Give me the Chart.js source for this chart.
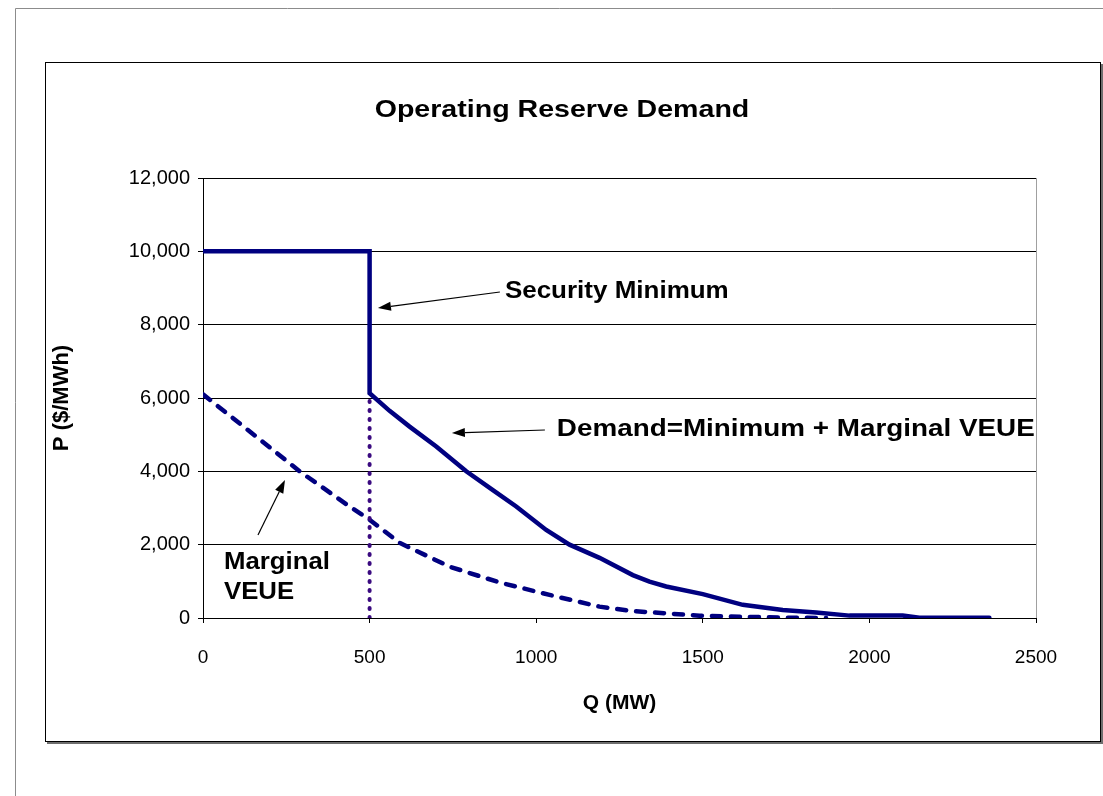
<!DOCTYPE html>
<html lang="en">
<head>
<meta charset="UTF-8">
<title>Operating Reserve Demand</title>
<script src="https://cdn.jsdelivr.net/npm/chart.js"></script>
<style>
    body { margin: 0; background: #fff; }
    #wrap { width: 1103px; height: 796px; }
</style>
</head>
<body>
<div id="wrap"><canvas id="reserveChart" width="1103" height="796"></canvas></div>
<script>
    // data (Q in MW, P in $/MWh)
    const demandQ = [0, 500, 500, 560, 620, 700, 790, 870, 940, 1030, 1100, 1190, 1290, 1340, 1390, 1500, 1620, 1740, 1840, 1940, 2100, 2150, 2360];
    const demandP = [10000, 10000, 6130, 5650, 5220, 4680, 4000, 3490, 3040, 2400, 2000, 1640, 1170, 990, 860, 650, 360, 220, 150, 65, 65, 10, 10];
    const veueQ = [0, 180, 290, 440, 500, 590, 740, 890, 1040, 1190, 1290, 1390, 1490, 1610, 1740, 1870];
    const veueP = [6100, 4800, 4000, 3040, 2680, 2050, 1400, 970, 630, 310, 190, 127, 64, 36, 10, 0];
    const minimumQ = [500, 500];
    const minimumP = [0, 6050];

    const xTicks = [0, 500, 1000, 1500, 2000, 2500];
    const yTicks = [0, 2000, 4000, 6000, 8000, 10000, 12000];

    // text notes and arrows, in data units
    const notes = [
        { text: 'Security Minimum', q: 906, p: 8890 },
        { text: 'Demand=Minimum + Marginal VEUE', q: 1062, p: 5127 },
        { text: 'Marginal', q: 63, p: 1520 },
        { text: 'VEUE', q: 63, p: 700 }
    ];
    const arrows = [
        { q1: 891, p1: 8891, q2: 525, p2: 8455 },
        { q1: 1026, p1: 5127, q2: 747, p2: 5045 },
        { q1: 165, p1: 2264, q2: 246, p2: 3764 }
    ];

    const FONT = '"Liberation Sans", Arial, sans-serif';
    const zip = (a, b) => a.map((v, i) => ({ x: v, y: b[i] }));

    // the original text is a little wider than Arial
    const noteStretch = [1.13, 1.21, 1.12, 1.12];

    function wideText(ctx, str, x, y, size, sx, align) {
        ctx.save();
        ctx.font = 'bold ' + size + 'px ' + FONT;
        ctx.fillStyle = '#000';
        ctx.textBaseline = 'middle';
        ctx.textAlign = align || 'left';
        ctx.translate(x, y);
        ctx.scale(sx, 1);
        ctx.fillText(str, 0, 0);
        ctx.restore();
    }

    function drawArrow(ctx, x1, y1, x2, y2) {
        const ang = Math.atan2(y2 - y1, x2 - x1);
        const len = 13, half = 4.5;
        const bx = x2 - len * Math.cos(ang), by = y2 - len * Math.sin(ang);
        ctx.save();
        ctx.strokeStyle = '#000';
        ctx.fillStyle = '#000';
        ctx.lineWidth = 1.2;
        ctx.beginPath();
        ctx.moveTo(x1, y1);
        ctx.lineTo(bx, by);
        ctx.stroke();
        ctx.beginPath();
        ctx.moveTo(x2, y2);
        ctx.lineTo(bx + half * Math.sin(ang), by - half * Math.cos(ang));
        ctx.lineTo(bx - half * Math.sin(ang), by + half * Math.cos(ang));
        ctx.closePath();
        ctx.fill();
        ctx.restore();
    }

    const framePlugin = {
        id: 'frame',
        beforeDraw(chart) {
            const ctx = chart.ctx;
            ctx.save();
            ctx.fillStyle = '#fff';
            ctx.fillRect(0, 0, chart.width, chart.height);
            // outer sheet edge
            ctx.strokeStyle = '#8c8c8c';
            ctx.lineWidth = 1;
            ctx.beginPath();
            ctx.moveTo(15.5, 796);
            ctx.lineTo(15.5, 8.5);
            ctx.lineTo(1103, 8.5);
            ctx.stroke();
            // chart box with shadow
            ctx.fillStyle = '#6e6e6e';
            ctx.fillRect(47, 64, 1056, 680);
            ctx.fillStyle = '#fff';
            ctx.fillRect(45, 62, 1055, 679);
            ctx.strokeStyle = '#000';
            ctx.strokeRect(45.5, 62.5, 1055, 679);
            ctx.restore();
        },
        beforeDatasetsDraw(chart) {
            const ctx = chart.ctx, a = chart.chartArea;
            ctx.save();
            ctx.strokeStyle = '#a0a0a0';
            ctx.lineWidth = 1;
            ctx.beginPath();
            ctx.moveTo(Math.round(a.right) + 0.5, a.top);
            ctx.lineTo(Math.round(a.right) + 0.5, a.bottom);
            ctx.stroke();
            ctx.restore();
        },
        afterDraw(chart) {
            const ctx = chart.ctx;
            const xs = chart.scales.x, ys = chart.scales.y;
            wideText(ctx, 'Operating Reserve Demand', 562, 110, 24, 1.19, 'center');
            notes.forEach((n, i) => {
                wideText(ctx, n.text, xs.getPixelForValue(n.q), ys.getPixelForValue(n.p), 23, noteStretch[i], 'left');
            });
            arrows.forEach(a => {
                drawArrow(ctx, xs.getPixelForValue(a.q1), ys.getPixelForValue(a.p1),
                    xs.getPixelForValue(a.q2), ys.getPixelForValue(a.p2));
            });
        }
    };

    const ctx = document.getElementById('reserveChart').getContext('2d');
    const reserveChart = new Chart(ctx, {
        type: 'scatter',
        data: {
            datasets: [{
                label: 'Minimum',
                data: zip(minimumQ, minimumP),
                showLine: true,
                borderColor: '#3a0a80',
                borderWidth: 4,
                borderDash: [1, 8],
                borderCapStyle: 'round',
                pointRadius: 0,
                order: 0
            }, {
                label: 'Marginal VEUE',
                data: zip(veueQ, veueP),
                showLine: true,
                borderColor: '#000080',
                borderWidth: 4.5,
                borderDash: [9, 10],
                borderCapStyle: 'round',
                pointRadius: 0,
                order: 1
            }, {
                label: 'Demand',
                data: zip(demandQ, demandP),
                showLine: true,
                borderColor: '#000080',
                borderWidth: 4.5,
                borderCapStyle: 'round',
                borderJoinStyle: 'miter',
                pointRadius: 0,
                order: 2
            }]
        },
        options: {
            responsive: false,
            animation: false,
            layout: { padding: { left: 45, right: 67, top: 178, bottom: 55 } },
            plugins: {
                legend: { display: false },
                tooltip: { enabled: false }
            },
            scales: {
                x: {
                    type: 'linear',
                    position: 'bottom',
                    min: 0,
                    max: 2500,
                    afterBuildTicks: s => { s.ticks = xTicks.map(v => ({ value: v })); },
                    afterFit: s => { s.height = 123; },
                    ticks: {
                        color: '#000',
                        font: { family: FONT, size: 19 },
                        padding: 23,
                        maxRotation: 0,
                        autoSkip: false,
                        callback: v => String(v)
                    },
                    grid: { drawOnChartArea: false, drawTicks: true, tickLength: 5, color: '#000' },
                    border: { color: '#000', width: 1 },
                    title: {
                        display: true,
                        text: 'Q (MW)',
                        color: '#000',
                        font: { family: FONT, size: 21, weight: 'bold' },
                        padding: { top: 0, bottom: 25 }
                    }
                },
                y: {
                    min: 0,
                    max: 12000,
                    afterBuildTicks: s => { s.ticks = yTicks.map(v => ({ value: v })); },
                    afterFit: s => { s.width = 158; },
                    ticks: {
                        color: '#000',
                        font: { family: FONT, size: 20 },
                        padding: 8,
                        callback: v => v.toLocaleString('en-US')
                    },
                    grid: { color: '#000', lineWidth: 1, tickLength: 5 },
                    border: { color: '#000', width: 1 },
                    title: {
                        display: true,
                        text: 'P ($/MWh)',
                        color: '#000',
                        font: { family: FONT, size: 22, weight: 'bold' },
                        padding: { top: 4, bottom: 0 }
                    }
                }
            }
        },
        plugins: [framePlugin]
    });
</script>
</body>
</html>
